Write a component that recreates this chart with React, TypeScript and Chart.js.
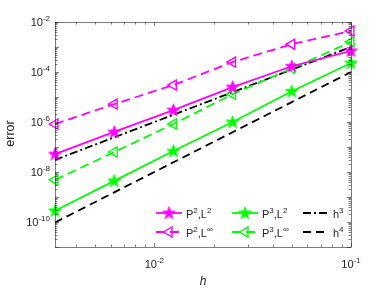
import React, { useEffect, useRef } from "react";
import { Chart, registerables } from "chart.js";

Chart.register(...registerables);

const H = [0.003125, 0.00625, 0.0125, 0.025, 0.05, 0.1];
const P2_L2 = [5.2e-8, 4e-7, 3e-6, 2.5e-5, 1.7e-4, 7e-4];
const P2_LINF = [8.3e-7, 5.2e-6, 3e-5, 2.5e-4, 1.3e-3, 4.4e-3];
const P3_L2 = [2.8e-10, 4.4e-9, 6.9e-8, 1e-6, 1.7e-5, 2.3e-4];
const P3_LINF = [4.8e-9, 6.3e-8, 8.3e-7, 1.3e-5, 1.4e-4, 1.6e-3];
const H3 = [3.05e-8, 2.44e-7, 1.95e-6, 1.56e-5, 1.25e-4, 1e-3];
const H4 = [9.54e-11, 1.53e-9, 2.44e-8, 3.91e-7, 6.25e-6, 1e-4];

const X_MIN = 0.003125;
const X_MAX = 0.1;
const Y_MIN = 1e-11;
const Y_MAX = 1e-2;
const X_TICK_EXP = [-2, -1];
const Y_TICK_EXP = [-10, -8, -6, -4, -2];

// legend labels: [base, superscript] segments
const LEGEND = [
  [["P", "2"], [",L", "2"]],
  [["P", "2"], [",L", "∞"]],
  [["P", "3"], [",L", "2"]],
  [["P", "3"], [",L", "∞"]],
  [["h", "3"]],
  [["h", "4"]],
];

const MAGENTA = "#ff00ff";
const GREEN = "#00ff00";
const BLACK = "#000000";
const AXIS = "#262626";
const FONT = "'Liberation Sans', Arial, sans-serif";

function makeStar(color: string) {
  const c = document.createElement("canvas");
  c.width = 15;
  c.height = 15;
  const g = c.getContext("2d")!;
  const R = 6.8, r = 2.7;
  g.beginPath();
  for (let i = 0; i < 10; i++) {
    const rad = i % 2 === 0 ? R : r;
    const a = -Math.PI / 2 + (i * Math.PI) / 5;
    const px = 7.5 + rad * Math.cos(a);
    const py = 7.8 + rad * Math.sin(a);
    if (i === 0) g.moveTo(px, py);
    else g.lineTo(px, py);
  }
  g.closePath();
  g.fillStyle = color;
  g.fill();
  g.strokeStyle = color;
  g.lineWidth = 0.8;
  g.stroke();
  return c;
}

function drawSupText(
  ctx: CanvasRenderingContext2D,
  segs: string[][],
  x: number,
  y: number,
  base: number,
  sup: number,
  raise: number,
  align: "left" | "right" | "center"
) {
  ctx.textAlign = "left";
  ctx.textBaseline = "alphabetic";
  let w = 0;
  for (const s of segs) {
    ctx.font = `${base}px ${FONT}`;
    w += ctx.measureText(s[0]).width;
    if (s[1]) {
      ctx.font = `${sup}px ${FONT}`;
      w += ctx.measureText(s[1]).width;
    }
  }
  let cx = align === "left" ? x : align === "right" ? x - w : x - w / 2;
  for (const s of segs) {
    ctx.font = `${base}px ${FONT}`;
    ctx.fillText(s[0], cx, y);
    cx += ctx.measureText(s[0]).width;
    if (s[1]) {
      ctx.font = `${sup}px ${FONT}`;
      ctx.fillText(s[1], cx, y - raise);
      cx += ctx.measureText(s[1]).width;
    }
  }
}

export default function App() {
  const ref = useRef<HTMLCanvasElement>(null);

  useEffect(() => {
    const canvas = ref.current!;
    const starM = makeStar(MAGENTA);
    const starG = makeStar(GREEN);
    const pts = (ys: number[]) => H.map((x, i) => ({ x, y: ys[i] }));

    const styles: any[] = [
      { color: MAGENTA, dash: [], marker: starM },
      { color: MAGENTA, dash: [9, 5], marker: "triangle" },
      { color: GREEN, dash: [], marker: starG },
      { color: GREEN, dash: [9, 5], marker: "triangle" },
      { color: BLACK, dash: [8, 3, 2, 3], marker: null },
      { color: BLACK, dash: [8, 5], marker: null },
    ];
    const series = [P2_L2, P2_LINF, P3_L2, P3_LINF, H3, H4];

    const datasets = series.map((ys, i) => {
      const st = styles[i];
      return {
        label: "s" + i,
        data: pts(ys),
        borderColor: st.color,
        backgroundColor: st.color,
        borderWidth: 1.8,
        borderDash: st.dash,
        pointStyle: st.marker || "circle",
        pointRadius: st.marker ? 5.8 : 0,
        pointRotation: st.marker === "triangle" ? -90 : 0,
        pointBorderColor: st.color,
        pointBorderWidth: 1.4,
        pointBackgroundColor: st.marker === "triangle" ? "rgba(0,0,0,0)" : st.color,
        clip: false,
        tension: 0,
      };
    });

    const deco = {
      id: "deco",
      afterDraw(chart: any) {
        const ctx: CanvasRenderingContext2D = chart.ctx;
        const { left, right, top, bottom } = chart.chartArea;
        const xs = chart.scales.x;
        const ys = chart.scales.y;
        ctx.save();
        // box
        ctx.strokeStyle = AXIS;
        ctx.lineWidth = 0.6;
        ctx.strokeRect(Math.round(left) + 0.5, Math.round(top) + 0.5, Math.round(right - left), Math.round(bottom - top));
        // ticks
        ctx.beginPath();
        for (let e = -3; e <= -1; e++) {
          for (let m = 1; m <= 9; m++) {
            const v = m * Math.pow(10, e);
            if (v < X_MIN * 0.999 || v > X_MAX * 1.001) continue;
            const px = Math.round(xs.getPixelForValue(v)) + 0.5;
            const len = m === 1 ? 4 : 2.5;
            ctx.moveTo(px, bottom);
            ctx.lineTo(px, bottom - len);
            ctx.moveTo(px, top);
            ctx.lineTo(px, top + len);
          }
        }
        for (let e = -11; e <= -2; e++) {
          for (let m = 1; m <= 9; m++) {
            const v = m * Math.pow(10, e);
            if (v < Y_MIN * 0.999 || v > Y_MAX * 1.001) continue;
            const py = Math.round(ys.getPixelForValue(v)) + 0.5;
            const len = m === 1 ? 4 : 2.5;
            ctx.moveTo(left, py);
            ctx.lineTo(left + len, py);
            ctx.moveTo(right, py);
            ctx.lineTo(right - len, py);
          }
        }
        ctx.stroke();

        // tick labels
        ctx.fillStyle = AXIS;
        for (const e of Y_TICK_EXP) {
          const py = ys.getPixelForValue(Math.pow(10, e));
          drawSupText(ctx, [["10", String(e)]], left - 5, py + 4, 11, 8, 5, "right");
        }
        for (const e of X_TICK_EXP) {
          const px = xs.getPixelForValue(Math.pow(10, e));
          drawSupText(ctx, [["10", String(e)]], px, bottom + 21, 11, 8, 5, "center");
        }
        // axis titles
        ctx.font = `12.5px ${FONT}`;
        ctx.textAlign = "center";
        ctx.textBaseline = "middle";
        ctx.save();
        ctx.translate(11, (top + bottom) / 2 - 1);
        ctx.rotate(-Math.PI / 2);
        ctx.fillText("error", 0, 0);
        ctx.restore();
        ctx.font = `italic 12px ${FONT}`;
        ctx.fillText("h", (left + right) / 2, bottom + 35);

        // legend
        const colStart = [right - 195, right - 119, right - 48];
        const rowY = [bottom - 34, bottom - 15];
        LEGEND.forEach((segs, i) => {
          const col = Math.floor(i / 2);
          const row = i % 2;
          const st = styles[i];
          const x0 = colStart[col];
          const y0 = rowY[row];
          const x1 = x0 + 26;
          ctx.strokeStyle = st.color;
          ctx.lineWidth = 1.8;
          ctx.setLineDash(st.dash);
          ctx.beginPath();
          ctx.moveTo(x0, y0);
          ctx.lineTo(x1, y0);
          ctx.stroke();
          ctx.setLineDash([]);
          const mx = (x0 + x1) / 2;
          if (st.marker === "triangle") {
            ctx.lineWidth = 1.4;
            ctx.beginPath();
            ctx.moveTo(mx - 5.5, y0);
            ctx.lineTo(mx + 3, y0 - 5);
            ctx.lineTo(mx + 3, y0 + 5);
            ctx.closePath();
            ctx.stroke();
          } else if (st.marker) {
            ctx.drawImage(st.marker, mx - 7.5, y0 - 7.5);
          }
          ctx.fillStyle = AXIS;
          drawSupText(ctx, segs, x1 + 4, y0 + 5, 11, 8, 5, "left");
        });
        ctx.restore();
      },
    };

    const chart = new Chart(canvas, {
      type: "line",
      data: { datasets },
      options: {
        animation: false,
        responsive: false,
        maintainAspectRatio: false,
        devicePixelRatio: 1,
        layout: { padding: { left: 55, top: 22, right: 37, bottom: 44 } },
        plugins: { legend: { display: false }, tooltip: { enabled: false } },
        scales: {
          x: { type: "logarithmic", min: X_MIN, max: X_MAX, display: false },
          y: { type: "logarithmic", min: Y_MIN, max: Y_MAX, display: false },
        },
      },
      plugins: [deco],
    } as any);
    return () => chart.destroy();
  }, []);

  return (
    <div style={{ position: "fixed", left: 0, top: 0, width: 388, height: 291, background: "#fff" }}>
      <canvas ref={ref} width={388} height={291} style={{ width: 388, height: 291 }} />
    </div>
  );
}
